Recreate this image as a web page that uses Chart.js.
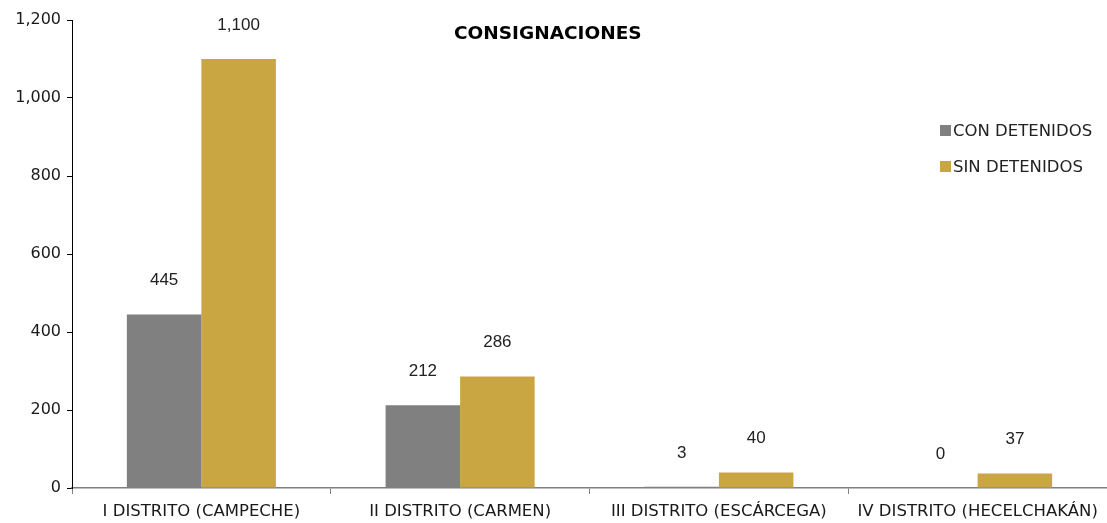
<!DOCTYPE html>
<html>
<head>
<meta charset="utf-8">
<script src="https://cdn.jsdelivr.net/npm/chart.js@4.4.1/dist/chart.umd.min.js"></script>
<style>
  html, body { margin: 0; padding: 0; background: #fff; }
  #wrap { position: relative; width: 1107px; height: 523px; }
  canvas { display: block; }
  #title { position: absolute; left: 454px; top: 21px; font: bold 18.5px "DejaVu Sans", sans-serif; color: #000; line-height: 24px; }
  #legend { position: absolute; left: 940px; top: 119px; font: 16.5px "DejaVu Sans", sans-serif; color: #222; }
  #legend div { display: flex; align-items: center; height: 22px; margin-bottom: 14px; }
  #legend span.sw { display: inline-block; width: 11px; height: 11px; margin-right: 2px; }
</style>
</head>
<body>
<div id="wrap">
  <canvas id="c" width="1107" height="523"></canvas>
  <div id="title">CONSIGNACIONES</div>
  <div id="legend">
    <div><span class="sw" style="background:#808080"></span>CON DETENIDOS</div>
    <div><span class="sw" style="background:#C9A642"></span>SIN DETENIDOS</div>
  </div>
</div>
<script>
const categories = ["I DISTRITO (CAMPECHE)", "II DISTRITO (CARMEN)", "III DISTRITO (ESCÁRCEGA)", "IV DISTRITO (HECELCHAKÁN)"];
const conDetenidos = [445, 212, 3, 0];
const sinDetenidos = [1100, 286, 40, 37];
const seriesNames = ["CON DETENIDOS", "SIN DETENIDOS"];
const yTicks = [0, 200, 400, 600, 800, 1000, 1200];

const labelPlugin = {
  id: 'barLabels',
  afterDatasetsDraw(chart) {
    const ctx = chart.ctx;
    ctx.save();
    ctx.font = '17px "Liberation Sans", Arial, sans-serif';
    ctx.fillStyle = '#222';
    ctx.textAlign = 'center';
    ctx.textBaseline = 'middle';
    chart.data.datasets.forEach((ds, di) => {
      const meta = chart.getDatasetMeta(di);
      meta.data.forEach((bar, i) => {
        const v = ds.data[i];
        ctx.fillText(v.toLocaleString('en-US'), bar.x, bar.y - 34);
      });
    });
    ctx.restore();
  }
};

new Chart(document.getElementById('c'), {
  type: 'bar',
  data: {
    labels: categories,
    datasets: [
      { label: seriesNames[0], data: conDetenidos, backgroundColor: '#808080', categoryPercentage: 0.576, barPercentage: 1.0 },
      { label: seriesNames[1], data: sinDetenidos, backgroundColor: '#C9A642', categoryPercentage: 0.576, barPercentage: 1.0 }
    ]
  },
  options: {
    responsive: false,
    animation: false,
    layout: { padding: { top: 20, right: 0, left: 0, bottom: 0 } },
    plugins: { legend: { display: false }, title: { display: false }, tooltip: { enabled: false } },
    scales: {
      x: {
        grid: { offset: true, drawOnChartArea: false, color: '#808080', tickLength: 6 },
        border: { color: '#808080', width: 1.5 },
        ticks: { color: '#1a1a1a', font: { family: '"DejaVu Sans", sans-serif', size: 16.5 }, padding: 8, maxRotation: 0, autoSkip: false },
        afterFit(scale) { scale.height = 35; }
      },
      y: {
        min: 0, max: 1200,
        afterBuildTicks(scale) { scale.ticks = yTicks.map(v => ({ value: v })); },
        grid: { drawOnChartArea: false, color: '#000', tickLength: 5 },
        border: { color: '#000', width: 1 },
        ticks: { color: '#1a1a1a', font: { family: '"DejaVu Sans", sans-serif', size: 16 }, padding: 6,
                 callback: v => v.toLocaleString('en-US') },
        afterFit(scale) { scale.width = 72; }
      }
    }
  },
  plugins: [labelPlugin]
});
</script>
</body>
</html>
